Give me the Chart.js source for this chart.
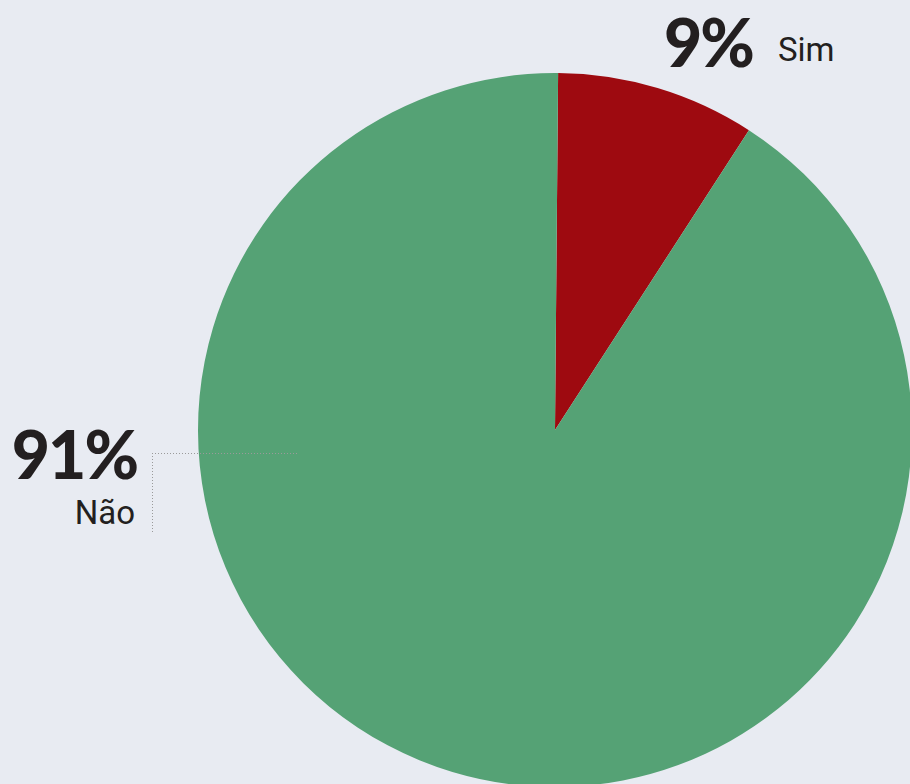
<!DOCTYPE html>
<html>
<head>
<meta charset="utf-8">
<script src="https://cdn.jsdelivr.net/npm/chart.js@4/dist/chart.umd.min.js"></script>
<style>
    html, body {
        margin: 0;
        padding: 0;
        width: 910px;
        height: 784px;
        overflow: hidden;
        background: #E8EBF2;
    }

    #caixa_grafico {
        position: absolute;
        left: 198px;
        top: 73px;
        width: 714px;
        height: 714px;
        z-index: 1;
    }

    .valor {
        position: absolute;
        font-family: "Lato", sans-serif;
        font-weight: 900;
        font-size: 66px;
        line-height: 66px;
        letter-spacing: -2px;
        color: #231F20;
        white-space: nowrap;
    }

    .rotulo {
        position: absolute;
        font-family: "Roboto", sans-serif;
        font-weight: 400;
        font-size: 33px;
        line-height: 33px;
        color: #231F20;
        white-space: nowrap;
    }

    .linha_h {
        position: absolute;
        z-index: 5;
        height: 1px;
        background: repeating-linear-gradient(to right, #9A9A9A 0px, #9A9A9A 1px, transparent 1px, transparent 3px);
    }

    .linha_v {
        position: absolute;
        z-index: 5;
        width: 1px;
        background: repeating-linear-gradient(to bottom, #9A9A9A 0px, #9A9A9A 1px, transparent 1px, transparent 3px);
    }
</style>
</head>
<body>
<div id="caixa_grafico">
    <canvas id="grafico_pizza" width="714" height="714"></canvas>
</div>

<div id="valor_nao" class="valor" style="right: 773px; top: 421px;"></div>
<div id="rotulo_nao" class="rotulo" style="right: 775px; top: 496px;"></div>
<div class="linha_h" style="left: 152px; top: 453px; width: 146px;"></div>
<div class="linha_v" style="left: 152px; top: 453px; height: 79px;"></div>

<div id="valor_sim" class="valor" style="left: 664px; top: 9px;"></div>
<div id="rotulo_sim" class="rotulo" style="left: 778px; top: 33px;"></div>

<script>
let categorias = ["Sim", "Não"];
let valores = [9, 91];
let cores = ["#9E0A10", "#55A275"];

let total = 0;
for (let i = 0; i < valores.length; i++) {
    total += valores[i];
}

valor_sim.innerHTML = Math.round(valores[0] * 100 / total) + "%";
rotulo_sim.innerHTML = categorias[0];
valor_nao.innerHTML = Math.round(valores[1] * 100 / total) + "%";
rotulo_nao.innerHTML = categorias[1];

let ctxPizza = document.getElementById("grafico_pizza");

let graficoPizza = new Chart(ctxPizza, {
    type: "pie",
    data: {
        labels: categorias,
        datasets: [
            {
                label: "Respostas",
                data: valores,
                backgroundColor: cores,
                borderWidth: 0,
                hoverOffset: 0
            }
        ]
    },
    options: {
        responsive: false,
        animation: false,
        rotation: 0.5,
        layout: {
            padding: 0
        },
        plugins: {
            legend: {
                display: false
            },
            tooltip: {
                enabled: false
            }
        }
    }
});
</script>
</body>
</html>
